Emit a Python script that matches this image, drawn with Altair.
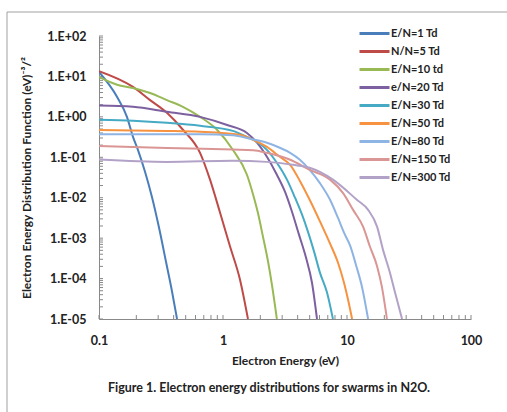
import altair as alt
import pandas as pd

series_names = ["E/N=1 Td", "N/N=5 Td", "E/N=10 td", "e/N=20 Td", "E/N=30 Td",
                "E/N=50 Td", "E/N=80 Td", "E/N=150 Td", "E/N=300 Td"]
series_colors = ["#4A7EBB", "#BE4B48", "#98B954", "#7D60A0", "#46AAC5",
                 "#F69240", "#8EB4E3", "#DA9694", "#B3A2C7"]

e1 = [0.10, 0.14, 0.168, 0.188, 0.206, 0.235, 0.267, 0.305, 0.347, 0.388, 0.426]
f1 = [12.9, 3.1, 1.0, 0.32, 0.153, 0.044, 0.0106, 1.8e-3, 2.6e-4, 4.8e-5, 1e-5]

e5 = [0.10, 0.188, 0.258, 0.353, 0.475, 0.653, 0.786, 0.946, 1.14, 1.37, 1.59]
f5 = [13.5, 5.5, 2.6, 1.26, 0.48, 0.129, 0.028, 0.0043, 6.2e-4, 9.5e-5, 1e-5]

e10 = [0.10, 0.14, 0.188, 0.258, 0.353, 0.475, 0.653, 0.895, 1.2, 1.56, 1.75, 1.91, 2.1, 2.31, 2.48, 2.72]
f10 = [9.7, 6.2, 5.2, 3.9, 2.6, 1.77, 1.0, 0.48, 0.153, 0.037, 0.0119, 0.0043, 1.09e-3, 2.6e-4, 7.1e-5, 1e-5]

e20 = [0.10, 0.188, 0.353, 0.653, 1.08, 1.56, 1.88, 2.26, 2.72, 3.16, 3.6, 4.1, 4.67, 5.22, 5.73]
f20 = [1.9, 1.77, 1.33, 1.0, 0.63, 0.40, 0.23, 0.103, 0.037, 0.0141, 0.0045, 1.22e-3, 3.3e-4, 7.9e-5, 1e-5]

e30 = [0.10, 0.188, 0.353, 0.653, 1.2, 1.56, 1.88, 2.26, 2.72, 3.28, 3.81, 4.34, 4.84, 5.42, 6.05, 6.9, 7.7]
f30 = [0.85, 0.80, 0.71, 0.60, 0.45, 0.32, 0.24, 0.153, 0.073, 0.028, 0.01, 0.0038, 1.45e-3, 4.7e-4, 1.4e-4, 4.5e-5, 1e-5]

e50 = [0.10, 0.188, 0.353, 0.653, 1.37, 1.75, 2.26, 2.87, 3.48, 4.17, 5.0, 6.05, 7.3, 8.45, 9.46, 10.2, 11.0]
f50 = [0.47, 0.46, 0.45, 0.43, 0.36, 0.27, 0.18, 0.103, 0.065, 0.026, 0.0089, 0.0026, 7.3e-4, 2.5e-4, 7.9e-5, 3e-5, 1e-5]

e80 = [0.10, 0.653, 1.2, 1.65, 2.26, 2.87, 3.48, 4.17, 5.0, 6.05, 7.3, 8.45, 9.46, 10.6, 11.8, 13.2, 14.8]
f80 = [0.37, 0.37, 0.35, 0.286, 0.228, 0.172, 0.129, 0.087, 0.049, 0.023, 0.0089, 0.0032, 1.37e-3, 6.5e-4, 2.2e-4, 6.3e-5, 1e-5]

e150 = [0.10, 0.353, 1.2, 1.75, 2.26, 3.48, 5.0, 7.3, 9.3, 11.2, 13.5, 15.3, 17.5, 19.1, 21.0]
f150 = [0.19, 0.17, 0.155, 0.15, 0.129, 0.087, 0.049, 0.028, 0.013, 0.005, 0.0019, 6.2e-4, 2e-4, 6.3e-5, 1e-5]

e300 = [0.10, 0.353, 1.2, 2.26, 3.67, 5.0, 7.7, 12.0, 14.8, 17.5, 19.5, 22.2, 24.4, 27.8]
f300 = [0.088, 0.077, 0.082, 0.077, 0.065, 0.055, 0.028, 0.0089, 0.005, 0.0019, 5.2e-4, 1.4e-4, 4.5e-5, 1e-5]

all_e = [e1, e5, e10, e20, e30, e50, e80, e150, e300]
all_f = [f1, f5, f10, f20, f30, f50, f80, f150, f300]

x_tick_labels = [0.1, 1, 10, 100]
y_tick_labels = [1e-5, 1e-4, 1e-3, 1e-2, 1e-1, 1, 10, 100]
minor_steps = [1, 2, 3, 4, 5, 6, 7, 8, 9]
caption = "Figure 1. Electron energy distributions for swarms in N2O."

rows = []
for name, es, fs in zip(series_names, all_e, all_f):
    for i, (e, f) in enumerate(zip(es, fs)):
        rows.append({"series": name, "energy": e, "eedf": f, "order": i})
df = pd.DataFrame(rows)

x_minor = pd.DataFrame({"v": [d * m for d in x_tick_labels[:-1] for m in minor_steps] + [x_tick_labels[-1]]})
y_minor = pd.DataFrame({"v": [d * m for d in y_tick_labels[:-1] for m in minor_steps] + [y_tick_labels[-1]]})

FONT = "Lato"
GRAY = "#898989"
TXT = "#222222"

xscale = alt.Scale(type="log", domain=[0.1, 100])
yscale = alt.Scale(type="log", domain=[1e-5, 100])

y_label_expr = ("'1.E' + (round(log(datum.value)/LN10) >= 0 ? '+' : '-') + "
                "pad(abs(round(log(datum.value)/LN10)), 2, '0', 'left')")

lines = alt.Chart(df).mark_line(strokeWidth=2, clip=True, interpolate="monotone").encode(
    x=alt.X("energy:Q", scale=xscale,
            axis=alt.Axis(values=x_tick_labels, format="~g", title="Electron Energy (eV)",
                          ticks=False, grid=False, labelPadding=15, titlePadding=9,
                          labelFlush=False)),
    y=alt.Y("eedf:Q", scale=yscale,
            axis=alt.Axis(values=y_tick_labels, labelExpr=y_label_expr,
                          title="Electron Energy Distribution Function (eV)⁻³/²",
                          ticks=False, grid=False, labelPadding=13, titlePadding=13,
                          labelFlush=False)),
    color=alt.Color("series:N", scale=alt.Scale(domain=series_names, range=series_colors),
                    legend=alt.Legend(title=None, orient="none", legendX=269, legendY=-9,
                                      symbolType="M-3,0H3", symbolSize=100,
                                      symbolStrokeWidth=3, labelFont=FONT,
                                      labelFontSize=11, labelFontWeight="bold",
                                      labelColor=TXT, labelOffset=10,
                                      rowPadding=5)),
    order="order:Q",
)

xt = alt.Chart(x_minor).mark_rule(color=GRAY, strokeWidth=1).encode(
    x=alt.X("v:Q", scale=xscale), y=alt.value(283), y2=alt.value(279))
yt = alt.Chart(y_minor).mark_rule(color=GRAY, strokeWidth=1).encode(
    y=alt.Y("v:Q", scale=yscale), x=alt.value(0), x2=alt.value(4))

one = pd.DataFrame({"a": [0]})
border_top = alt.Chart(one).mark_rule(color="#A0A0A0", strokeWidth=1).encode(
    x=alt.value(-92), x2=alt.value(420), y=alt.value(-24))
border_left = alt.Chart(one).mark_rule(color="#A0A0A0", strokeWidth=1).encode(
    x=alt.value(-92), y=alt.value(-24), y2=alt.value(390))
cap = alt.Chart(pd.DataFrame({"t": [caption]})).mark_text(
    font=FONT, fontSize=12.5, fontWeight="bold", color=TXT, align="center", baseline="middle"
).encode(text="t:N", x=alt.value(170), y=alt.value(352))

chart = alt.layer(border_top, border_left, xt, yt, lines, cap).properties(
    width=372, height=283,
    autosize=alt.AutoSizeParams(type="none"),
    padding={"left": 99, "top": 36, "right": 36, "bottom": 93},
).configure_view(stroke=None).configure_axis(
    domainColor=GRAY, domainWidth=1, labelFont=FONT, labelFontSize=12.5, labelFontWeight="bold",
    labelColor=TXT, titleFont=FONT, titleFontSize=12, titleFontWeight="bold",
    titleColor=TXT
)

chart.save("out.html", embed_options={"renderer": "svg", "actions": False})
